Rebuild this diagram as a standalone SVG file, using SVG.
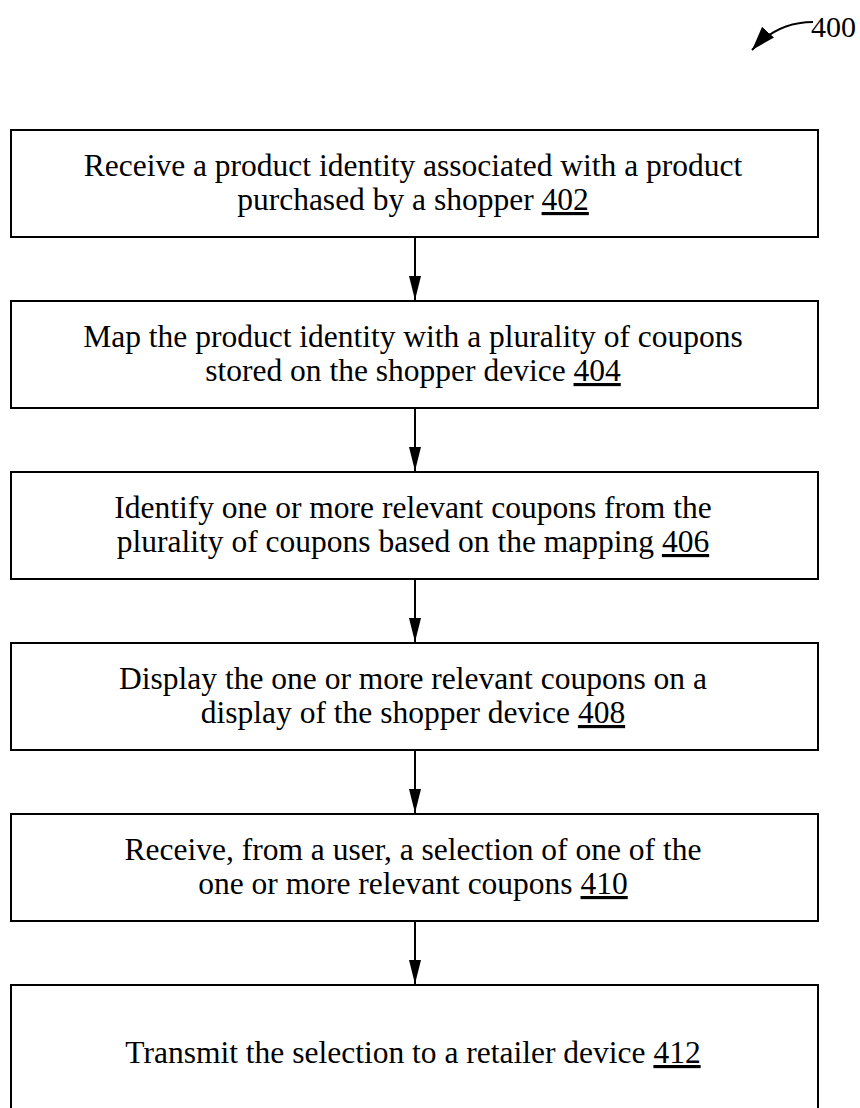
<svg xmlns="http://www.w3.org/2000/svg" width="860" height="1108" viewBox="0 0 860 1108">
  <style>
    .box { fill: #ffffff; stroke: #000000; stroke-width: 2; }
    .lbl { font-family: "Liberation Serif", "Times New Roman", serif; font-size: 31.5px; fill: #000000; text-anchor: middle; }
    .ref { text-decoration: underline; }
    .conn { stroke: #000000; stroke-width: 2; fill: none; }
    .head { fill: #000000; }
    .fig { font-family: "Liberation Serif", "Times New Roman", serif; font-size: 30px; fill: #000000; }
  </style>
  <defs>
    <marker id="tip" markerUnits="userSpaceOnUse" markerWidth="24" markerHeight="16" refX="24" refY="8" orient="auto" viewBox="0 0 24 16">
      <path d="M0,0 L24,8 L0,16 Z" fill="#000000"/>
    </marker>
  </defs>

  <!-- figure reference with curved leader -->
  <g id="fig-ref">
    <text class="fig" x="811" y="37">400</text>
    <path class="conn" d="M813,22 C790,22 770,30 752,50" marker-end="url(#tip)" stroke-width="1.5"/>
  </g>

  <!-- connectors between steps -->
  <g id="connectors">
    <line class="conn" x1="415" y1="237" x2="415" y2="300"/>
    <path class="head" d="M409,276 L421,276 L415,300 Z"/>
    <line class="conn" x1="415" y1="408" x2="415" y2="471"/>
    <path class="head" d="M409,447 L421,447 L415,471 Z"/>
    <line class="conn" x1="415" y1="579" x2="415" y2="642"/>
    <path class="head" d="M409,618 L421,618 L415,642 Z"/>
    <line class="conn" x1="415" y1="750" x2="415" y2="813"/>
    <path class="head" d="M409,789 L421,789 L415,813 Z"/>
    <line class="conn" x1="415" y1="921" x2="415" y2="984"/>
    <path class="head" d="M409,960 L421,960 L415,984 Z"/>
  </g>

  <g id="step-402">
    <rect class="box" x="11" y="130" width="807" height="107"/>
    <text class="lbl" x="413" y="176">Receive a product identity associated with a product</text>
    <text class="lbl" x="413" y="210">purchased by a shopper <tspan class="ref">402</tspan></text>
  </g>

  <g id="step-404">
    <rect class="box" x="11" y="301" width="807" height="107"/>
    <text class="lbl" x="413" y="347">Map the product identity with a plurality of coupons</text>
    <text class="lbl" x="413" y="381">stored on the shopper device <tspan class="ref">404</tspan></text>
  </g>

  <g id="step-406">
    <rect class="box" x="11" y="472" width="807" height="107"/>
    <text class="lbl" x="413" y="518">Identify one or more relevant coupons from the</text>
    <text class="lbl" x="413" y="552">plurality of coupons based on the mapping <tspan class="ref">406</tspan></text>
  </g>

  <g id="step-408">
    <rect class="box" x="11" y="643" width="807" height="107"/>
    <text class="lbl" x="413" y="689">Display the one or more relevant coupons on a</text>
    <text class="lbl" x="413" y="723">display of the shopper device <tspan class="ref">408</tspan></text>
  </g>

  <g id="step-410">
    <rect class="box" x="11" y="814" width="807" height="107"/>
    <text class="lbl" x="413" y="860">Receive, from a user, a selection of one of the</text>
    <text class="lbl" x="413" y="894">one or more relevant coupons <tspan class="ref">410</tspan></text>
  </g>

  <g id="step-412">
    <rect class="box" x="11" y="985" width="807" height="140"/>
    <text class="lbl" x="413" y="1063">Transmit the selection to a retailer device <tspan class="ref">412</tspan></text>
  </g>
</svg>
